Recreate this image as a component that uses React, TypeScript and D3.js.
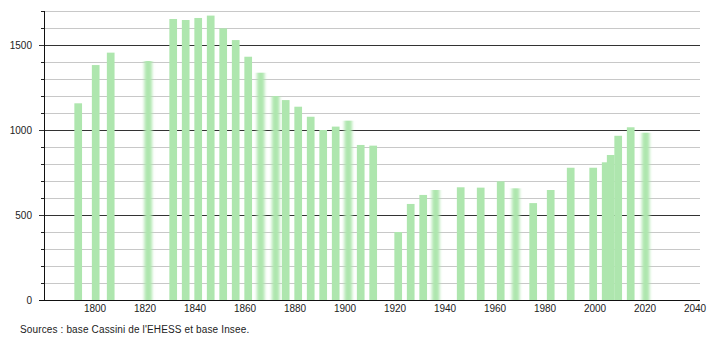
import React from "react";
import * as d3 from "d3";

const years = [1793, 1800, 1806, 1821, 1831, 1836, 1841, 1846, 1851, 1856, 1861, 1866, 1872, 1876, 1881, 1886, 1891, 1896, 1901, 1906, 1911, 1921, 1926, 1931, 1936, 1946, 1954, 1962, 1968, 1975, 1982, 1990, 1999, 2004, 2006, 2009, 2014, 2020];
const population = [1157, 1382, 1455, 1406, 1653, 1647, 1659, 1673, 1598, 1529, 1431, 1337, 1200, 1176, 1137, 1078, 1000, 1020, 1055, 912, 908, 400, 565, 618, 647, 663, 661, 698, 657, 570, 647, 778, 778, 810, 853, 966, 1016, 984];
const xTicks = [1800, 1820, 1840, 1860, 1880, 1900, 1920, 1940, 1960, 1980, 2000, 2020, 2040];
const yMajorTicks = [0, 500, 1000, 1500];
const yMinorTicks = [100, 200, 300, 400, 600, 700, 800, 900, 1100, 1200, 1300, 1400, 1600, 1700];
const blurredYears = [1821, 1866, 1872, 1901, 1936, 1968, 2020];
const sourceText = "Sources : base Cassini de l'EHESS et base Insee.";

const W = 710;
const H = 340;
const FONT = "'Liberation Sans', Arial, sans-serif";

export default function App() {
  const x = d3.scaleLinear().domain([1800, 2040]).range([95.7, 695.7]);
  const y = d3.scaleLinear().domain([0, 1700]).range([300, 11]);
  const barW = 7.7;
  const axisX = 44;
  const gridEnd = 700;

  return (
    <svg
      width={W}
      height={H}
      style={{ position: "fixed", left: 0, top: 0, background: "#fff" }}
      fontFamily={FONT}
    >
      <defs>
        <filter id="hblur" x="-50%" y="0" width="200%" height="100%">
          <feGaussianBlur stdDeviation="1.8 0" />
        </filter>
      </defs>
      <rect x={0} y={0} width={W} height={H} fill="#fff" />
      {yMinorTicks.map((v) => (
        <g key={"mi" + v}>
          <line x1={axisX} x2={gridEnd} y1={y(v) + 0.5} y2={y(v) + 0.5} stroke="#c8c8c8" strokeWidth={1} />
          <line x1={axisX - 3} x2={axisX} y1={y(v) + 0.5} y2={y(v) + 0.5} stroke="#222" strokeWidth={1} />
        </g>
      ))}
      {yMajorTicks.filter((v) => v > 0).map((v) => (
        <line key={"ma" + v} x1={axisX - 5} x2={gridEnd} y1={y(v) + 0.5} y2={y(v) + 0.5} stroke="#333" strokeWidth={1} />
      ))}
      {years.map((yr, i) => (
        <rect
          key={yr}
          x={x(yr) - barW / 2}
          y={y(population[i])}
          width={barW}
          height={y(0) - y(population[i])}
          fill="#aee6ae"
          filter={blurredYears.includes(yr) ? "url(#hblur)" : undefined}
        />
      ))}
      <line x1={axisX + 0.5} x2={axisX + 0.5} y1={y(1700)} y2={y(0) + 0.5} stroke="#111" strokeWidth={1} />
      <line x1={axisX - 5} x2={gridEnd} y1={y(0) + 0.5} y2={y(0) + 0.5} stroke="#111" strokeWidth={1} />
      {yMajorTicks.map((v) => (
        <text key={"yl" + v} x={32} y={y(v) + 3.5} textAnchor="end" fontSize={10} fill="#222">
          {v}
        </text>
      ))}
      {xTicks.map((t) => (
        <text key={"xl" + t} x={x(t) - 0.7} y={311.5} textAnchor="middle" fontSize={10} fill="#222">
          {t}
        </text>
      ))}
      <text x={20} y={333} fontSize={10} letterSpacing={0.14} fill="#222">
        {sourceText}
      </text>
    </svg>
  );
}
